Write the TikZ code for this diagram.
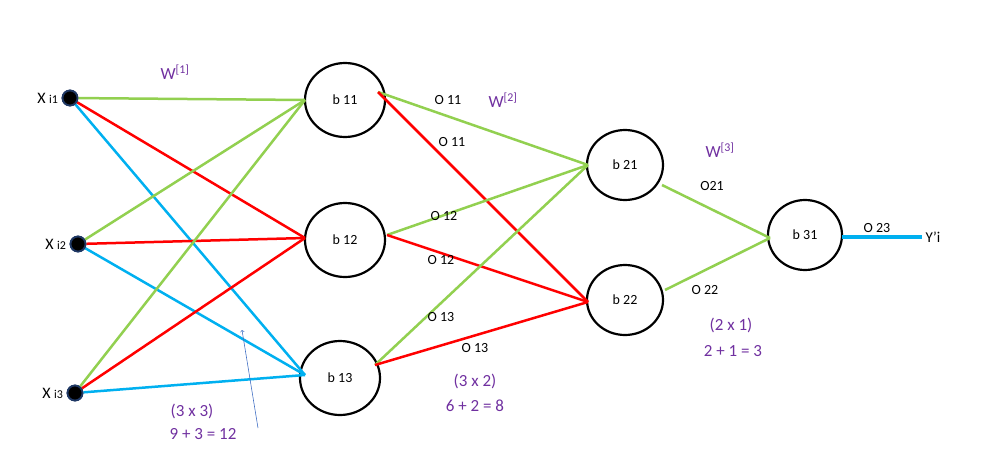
\documentclass[tikz,border=0pt]{standalone}
\usepackage{fontspec}
\setmainfont{Carlito}
\usetikzlibrary{shapes.geometric}
\begin{document}
\begin{tikzpicture}[x=1pt,y=-1pt,
  neuron/.style={draw,line width=2.2pt,ellipse,minimum width=80pt,minimum height=74pt,inner sep=0pt,font=\fontsize{14}{14}\selectfont},
  inp/.style={circle,draw={rgb,255:red,31;green,56;blue,100},line width=1.8pt,fill=black,minimum size=15pt,inner sep=0pt},
  g/.style={draw={rgb,255:red,146;green,208;blue,80},line width=2.5pt},
  r/.style={draw=red,line width=2.5pt},
  bl/.style={draw={rgb,255:red,0;green,176;blue,240},line width=2.5pt},
  lab/.style={font=\fontsize{14}{14}\selectfont},
  pur/.style={text={rgb,255:red,112;green,48;blue,160},font=\fontsize{17}{17}\selectfont}]
\useasboundingbox (0,0) rectangle (999,458);
\node[inp] (x1) at (70,98) {};
\node[inp] (x2) at (78,244) {};
\node[inp] (x3) at (75,393) {};
\node[anchor=east,font=\fontsize{16}{16}\selectfont] at (x1.west) {X {\fontsize{12}{12}\selectfont i1}};
\node[anchor=east,font=\fontsize{16}{16}\selectfont] at (x2.west) {X {\fontsize{12}{12}\selectfont i2}};
\node[anchor=east,font=\fontsize{16}{16}\selectfont] at (x3.west) {X {\fontsize{12}{12}\selectfont i3}};
\node[neuron] (b11) at (345,100) {b 11};
\node[neuron] (b12) at (345,240) {b 12};
\node[neuron] (b13) at (340,378) {b 13};
\node[neuron,minimum width=76pt,minimum height=70pt] (b21) at (625,165) {b 21};
\node[neuron,minimum width=76pt,minimum height=70pt] (b22) at (625,300) {b 22};
\node[neuron,minimum width=74pt,minimum height=70pt] (b31) at (805,235) {b 31};
\coordinate (i11) at (305,100);
\coordinate (i12) at (305,238);
\coordinate (i13) at (305,375);
\coordinate (o11) at (378,92);
\coordinate (o12) at (387,235);
\coordinate (o13) at (375,365);
\coordinate (i21) at (588,165);
\coordinate (i22) at (588,302);
\coordinate (o21) at (662,185);
\coordinate (o22) at (665,290);
\coordinate (i31) at (770,238);
\coordinate (o31) at (842,237);
\coordinate (y) at (922,237);
\foreach \s in {x1,x2,x3}{
  \draw[g] (\s) -- (i11);
  \draw[r] (\s) -- (i12);
  \draw[bl] (\s) -- (i13);}
\foreach \s in {o11,o12,o13}{
  \draw[g] (\s) -- (i21);
  \draw[r] (\s) -- (i22);}
\draw[g] (o21) -- (i31);
\draw[g] (o22) -- (i31);
\draw[bl,line width=3.5pt] (o31) -- (y);
\foreach \s in {x1,x2,x3}{\node[inp] at (\s) {};}
\node[anchor=west,font=\fontsize{15}{15}\selectfont] at (y) {Y’i};
\coordinate (ta) at (258,428);
\coordinate (tb) at (242,330);
\draw[->,draw={rgb,255:red,68;green,114;blue,196},line width=0.6pt] (ta) -- (tb);
\node[pur] at (175,72) {W\textsuperscript{[1]}};
\node[pur] at (503,100) {W\textsuperscript{[2]}};
\node[pur] at (720,150) {W\textsuperscript{[3]}};
\node[lab] at (448,100) {O 11};
\node[lab] at (452,142) {O 11};
\node[lab] at (444,216) {O 12};
\node[lab] at (441,260) {O 12};
\node[lab] at (441,317) {O 13};
\node[lab] at (475,348) {O 13};
\node[lab] at (712,186) {O21};
\node[lab] at (705,290) {O 22};
\node[lab] at (877,228) {O 23};
\node[pur] at (192,411) {(3 x 3)};
\node[pur] at (203,434) {9 + 3 = 12};
\node[pur] at (475,381) {(3 x 2)};
\node[pur] at (475,406) {6 + 2 = 8};
\node[pur] at (731,325) {(2 x 1)};
\node[pur] at (733,351) {2 + 1 = 3};
\end{tikzpicture}
\end{document}
